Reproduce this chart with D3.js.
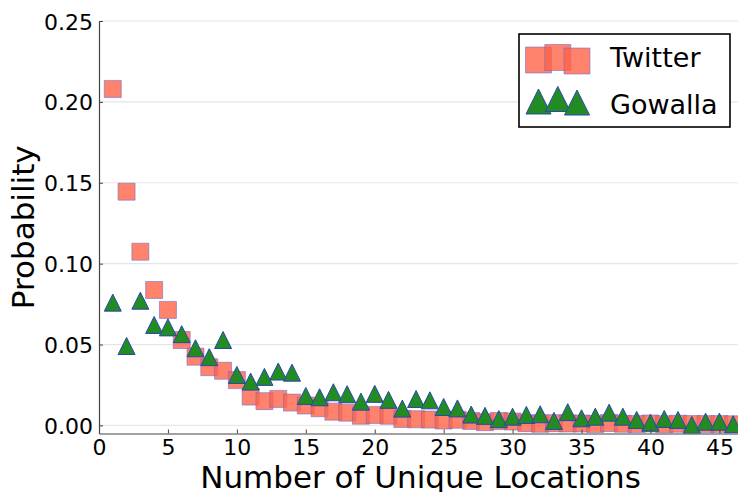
<!DOCTYPE html>
<html>
<head>
<meta charset="utf-8">
<script src="https://cdn.jsdelivr.net/npm/d3@7"></script>
<style>
  html, body { margin: 0; padding: 0; background: #fff; }
  svg { display: block; font-family: "DejaVu Sans", sans-serif; }
</style>
</head>
<body>
<svg id="chart" width="738" height="492"></svg>
<script>
// Number of unique locations per user (x) and the probability of each count
const locations = [1, 2, 3, 4, 5, 6, 7, 8, 9, 10, 11, 12, 13, 14, 15, 16, 17, 18, 19, 20, 21, 22, 23,
  24, 25, 26, 27, 28, 29, 30, 31, 32, 33, 34, 35, 36, 37, 38, 39, 40, 41, 42, 43, 44, 45, 46];

const twitter = [0.208, 0.1445, 0.1074, 0.0837, 0.0714, 0.0528, 0.0425, 0.036, 0.0338, 0.028,
  0.0178, 0.015, 0.0164, 0.0141, 0.0123, 0.0106, 0.0085, 0.0079, 0.006, 0.0065, 0.006, 0.004,
  0.0038, 0.0036, 0.003, 0.0035, 0.0028, 0.002, 0.0027, 0.0024, 0.0014, 0.001, 0.0014, 0.0012,
  0.0012, 0.0008, 0.0015, 0.001, 0.0008, 0.0012, 0.0007, 0.001, 0.0009, 0.0008, 0.0008, 0.0007];

const gowalla = [0.0759, 0.0491, 0.0771, 0.0621, 0.0606, 0.0564, 0.0477, 0.0422, 0.0528, 0.0312,
  0.0271, 0.030, 0.0333, 0.0326, 0.0182, 0.0174, 0.0205, 0.0193, 0.0147, 0.0195, 0.0158, 0.0104,
  0.0163, 0.0155, 0.0114, 0.0105, 0.0067, 0.0059, 0.0039, 0.0054, 0.0065, 0.0069, 0.0028, 0.0082,
  0.0044, 0.0054, 0.0079, 0.0054, 0.0034, 0.0017, 0.004, 0.0034, 0.0003, 0.0023, 0.0023, 0.0007];

const xTicks = [0, 5, 10, 15, 20, 25, 30, 35, 40, 45];
const yTicks = [0.00, 0.05, 0.10, 0.15, 0.20, 0.25];
const seriesNames = ["Twitter", "Gowalla"];

const svg = d3.select("#chart");

const plot = { left: 99, right: 738, top: 21, bottom: 433.5 };

const x = d3.scaleLinear().domain([0, 46.35]).range([plot.left, plot.right]);
const y = d3.scaleLinear().domain([-0.005, 0.25]).range([plot.bottom, plot.top]);

svg.append("defs").append("clipPath").attr("id", "plot-clip")
  .append("rect")
  .attr("x", plot.left).attr("y", plot.top - 20)
  .attr("width", plot.right - plot.left + 20)
  .attr("height", plot.bottom - plot.top + 20);

// horizontal grid lines
svg.append("g")
  .selectAll("line")
  .data(yTicks)
  .join("line")
  .attr("x1", plot.left).attr("x2", plot.right)
  .attr("y1", d => y(d)).attr("y2", d => y(d))
  .attr("stroke", "#e6e6e6")
  .attr("stroke-width", 1.2);

// marker shapes
const squareSize = 17;
const triSize = 17;
const squarePath = s => `M${-s / 2},${-s / 2}h${s}v${s}h${-s}Z`;
const triPath = s => `M0,${-s / 2}L${s / 2},${s / 2}L${-s / 2},${s / 2}Z`;

const marks = svg.append("g").attr("clip-path", "url(#plot-clip)");

marks.append("g")
  .selectAll("path")
  .data(locations.map((l, i) => [l, twitter[i]]))
  .join("path")
  .attr("d", squarePath(squareSize))
  .attr("transform", d => `translate(${x(d[0])},${y(d[1])})`)
  .attr("fill", "#ff6347")
  .attr("fill-opacity", 0.8)
  .attr("stroke", "#6a6ad0")
  .attr("stroke-opacity", 0.55)
  .attr("stroke-width", 1);

marks.append("g")
  .selectAll("path")
  .data(locations.map((l, i) => [l, gowalla[i]]))
  .join("path")
  .attr("d", triPath(triSize))
  .attr("transform", d => `translate(${x(d[0])},${y(d[1])})`)
  .attr("fill", "#228b22")
  .attr("stroke", "#2a46b0")
  .attr("stroke-width", 1);

// axes
const xAxis = svg.append("g")
  .attr("transform", `translate(0,${plot.bottom})`)
  .call(d3.axisBottom(x).tickValues(xTicks).tickSizeInner(-4).tickSizeOuter(0).tickPadding(7).tickFormat(d3.format("d")));

const yAxis = svg.append("g")
  .attr("transform", `translate(${plot.left},0)`)
  .call(d3.axisLeft(y).tickValues(yTicks).tickSizeInner(-4).tickSizeOuter(0).tickPadding(6).tickFormat(d3.format(".2f")));

[xAxis, yAxis].forEach(a => {
  a.select(".domain").attr("stroke", "#444").attr("stroke-width", 1.2);
  a.selectAll(".tick line").attr("stroke", "#444");
  a.selectAll(".tick text")
    .attr("fill", "#000")
    .style("font-family", "'DejaVu Sans', sans-serif")
    .style("font-size", "22px");
});
xAxis.selectAll(".tick text").attr("dy", null).attr("y", 21.5);
yAxis.selectAll(".tick text").attr("dy", null).attr("y", 8);

// axis titles
svg.append("text")
  .attr("x", 420.5).attr("y", 488)
  .attr("text-anchor", "middle")
  .style("font-size", "31px")
  .text("Number of Unique Locations");

svg.append("text")
  .attr("transform", `translate(34,${(plot.top + plot.bottom) / 2}) rotate(-90)`)
  .attr("text-anchor", "middle")
  .style("font-size", "31px")
  .text("Probability");

// legend
const legend = svg.append("g");
legend.append("rect")
  .attr("x", 519).attr("y", 34)
  .attr("width", 211).attr("height", 93)
  .attr("fill", "#fff")
  .attr("stroke", "#000")
  .attr("stroke-width", 1.6);

const legendXs = [538.5, 557.8, 577];
const legendDy = [3, 0.5, 4];

const lgSq = legend.append("g");
legendXs.forEach((lx, j) => {
  lgSq.append("path")
    .attr("d", squarePath(26))
    .attr("transform", `translate(${lx},${57 + legendDy[j]})`)
    .attr("fill", "#ff6347")
    .attr("fill-opacity", 0.8)
    .attr("stroke", "#6a6ad0")
    .attr("stroke-opacity", 0.55)
    .attr("stroke-width", 1);
});
const lgTri = legend.append("g");
legendXs.forEach((lx, j) => {
  lgTri.append("path")
    .attr("d", triPath(25))
    .attr("transform", `translate(${lx},${98.5 + legendDy[j]})`)
    .attr("fill", "#228b22")
    .attr("stroke", "#2a46b0")
    .attr("stroke-width", 1);
});

legend.selectAll("text.lg")
  .data(seriesNames)
  .join("text")
  .attr("class", "lg")
  .attr("x", 610)
  .attr("y", (d, i) => 66.5 + i * 47)
  .style("font-size", "27px")
  .text(d => d);
</script>
</body>
</html>
